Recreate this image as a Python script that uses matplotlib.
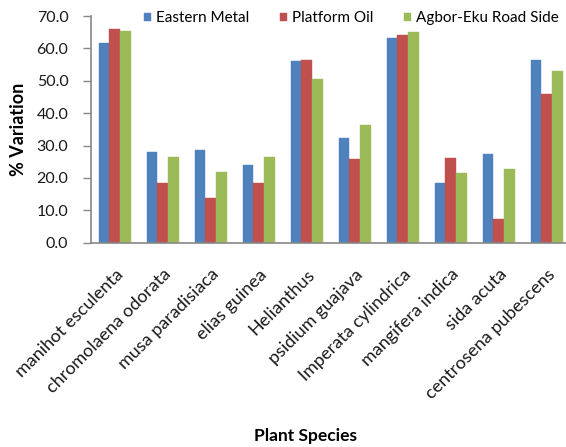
import numpy as np
import matplotlib
matplotlib.use("Agg")
import matplotlib.pyplot as plt

plt.rcParams['font.family'] = ['Lato', 'DejaVu Sans']

species = ["manihot esculenta", "chromolaena odorata", "musa paradisiaca",
           "elias guinea", "Helianthus", "psidium guajava", "Imperata cylindrica",
           "mangifera indica", "sida acuta", "centrosena pubescens"]
series_names = ["Eastern Metal", "Platform Oil", "Agbor-Eku Road Side"]
eastern_metal = [61.7, 27.9, 28.7, 24.1, 56.0, 32.2, 63.3, 18.5, 27.4, 56.5]
platform_oil = [65.9, 18.4, 13.7, 18.4, 56.5, 25.8, 64.2, 26.1, 7.3, 45.8]
agbor_eku = [65.3, 26.5, 21.8, 26.5, 50.6, 36.3, 65.0, 21.5, 22.7, 53.1]
y_ticks = [0, 10, 20, 30, 40, 50, 60, 70]

colors = ["#4F81BD", "#C0504D", "#9BBB59"]

W, H = 566, 447
fig = plt.figure(figsize=(W / 100, H / 100), dpi=100)
left, right, bottom, top = 90.7, 570.7, 242.7, 16.0
ax = fig.add_axes([left / W, 1 - bottom / H, (right - left) / W, (bottom - top) / H])

x = np.arange(len(species))
bw = 0.22
for i, (vals, name) in enumerate(zip([eastern_metal, platform_oil, agbor_eku], series_names)):
    ax.bar(x + (i - 1) * bw, vals, width=bw, color=colors[i], label=name,
           edgecolor=colors[i], linewidth=0.3)

ax.set_xlim(-0.5, len(species) - 0.5)
ax.set_ylim(0, 70)
ax.set_yticks(y_ticks)
ax.set_yticklabels([f"{t:.1f}" for t in y_ticks], fontsize=11.5, color="#1a1a1a")
ax.set_xticks(x)
ax.set_xticklabels(species, rotation=45, ha="right", rotation_mode="anchor",
                   fontsize=13, color="#1a1a1a")
ax.tick_params(axis="x", length=0, pad=17)
ax.tick_params(axis="y", length=6, width=1, color="#888888", pad=10)

for s in ["top", "right"]:
    ax.spines[s].set_visible(False)
for s in ["left", "bottom"]:
    ax.spines[s].set_color("#888888")
    ax.spines[s].set_linewidth(1.2)

ax.set_ylabel("% Variation", fontsize=13, fontweight="bold")
ax.yaxis.set_label_coords(-(left - 27) / (right - left), 0.5)
fig.text(306 / W, 1 - 436 / H, "Plant Species", fontsize=12.5, fontweight="bold",
         ha="center", va="center")

leg = ax.legend(loc="center left", bbox_to_anchor=(144 / W, 1 - 18.3 / H),
                bbox_transform=fig.transFigure, ncol=3, frameon=False,
                fontsize=11, handlelength=0.46, handleheight=0.46,
                handletextpad=0.33, columnspacing=2.0, borderaxespad=0,
                borderpad=0)

fig.savefig("out.png", dpi=100)
